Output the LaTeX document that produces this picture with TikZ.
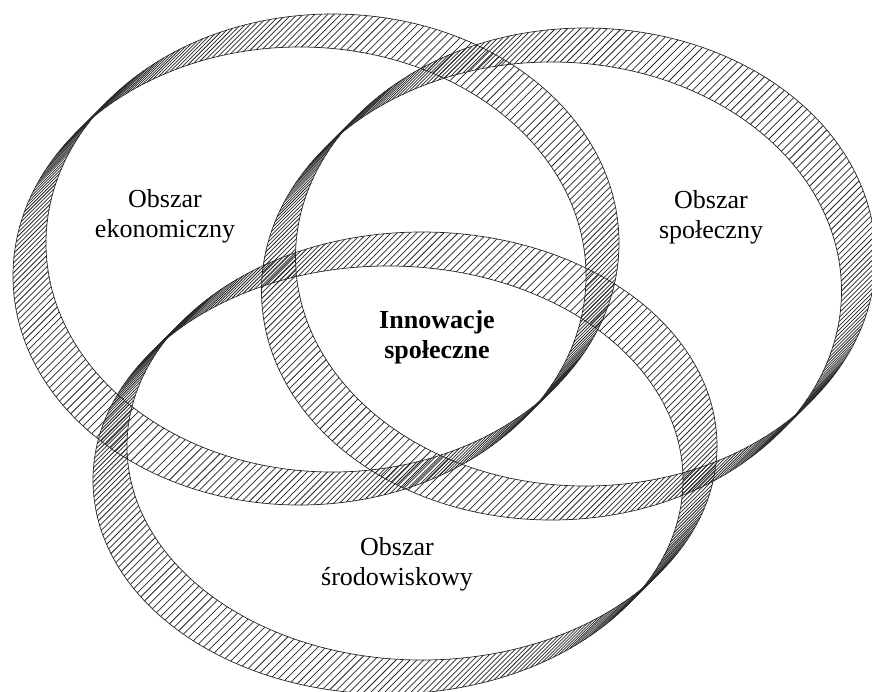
\documentclass[tikz,border=0pt]{standalone}
\usepackage{fontspec}
\setmainfont{Liberation Serif}
\usepackage{tikz}

\begin{document}
\begin{tikzpicture}[x=1pt, y=-1pt, font=\fontsize{26}{30}\selectfont,
	edge/.style={line width=0.7pt, black!85},
	hatch/.style={line width=0.75pt, black!85},
	areatext/.style={align=center, inner sep=0pt}]
	\useasboundingbox (0,0) rectangle (872,691);

	% rings: centre x / centre y / x radius / y radius / shift of the two edges
	\foreach \cx/\cy/\a/\b/\sh in {316/259.5/286.5/229/16.5, 568.5/274/290/229/17, 405/463/295/214/17}{
		\draw[edge] (\cx+\sh, \cy-\sh) ellipse [x radius=\a, y radius=\b];
		\draw[edge] (\cx-\sh, \cy+\sh) ellipse [x radius=\a, y radius=\b];
		\foreach \t in {0,1.3,...,359}
			\draw[hatch] ({\cx-\sh+\a*cos(\t)}, {\cy+\sh+\b*sin(\t)}) -- ++(2*\sh, -2*\sh);
	}

	\node[areatext] (eko) at (165,216.5) {Obszar\\ekonomiczny};
	\node[areatext] (spo) at (711,217) {Obszar\\społeczny};
	\node[areatext, font=\fontsize{26}{30}\selectfont\bfseries] (inn) at (437,337) {Innowacje\\społeczne};
	\node[areatext] (sro) at (397,564) {Obszar\\środowiskowy};
\end{tikzpicture}
\end{document}
